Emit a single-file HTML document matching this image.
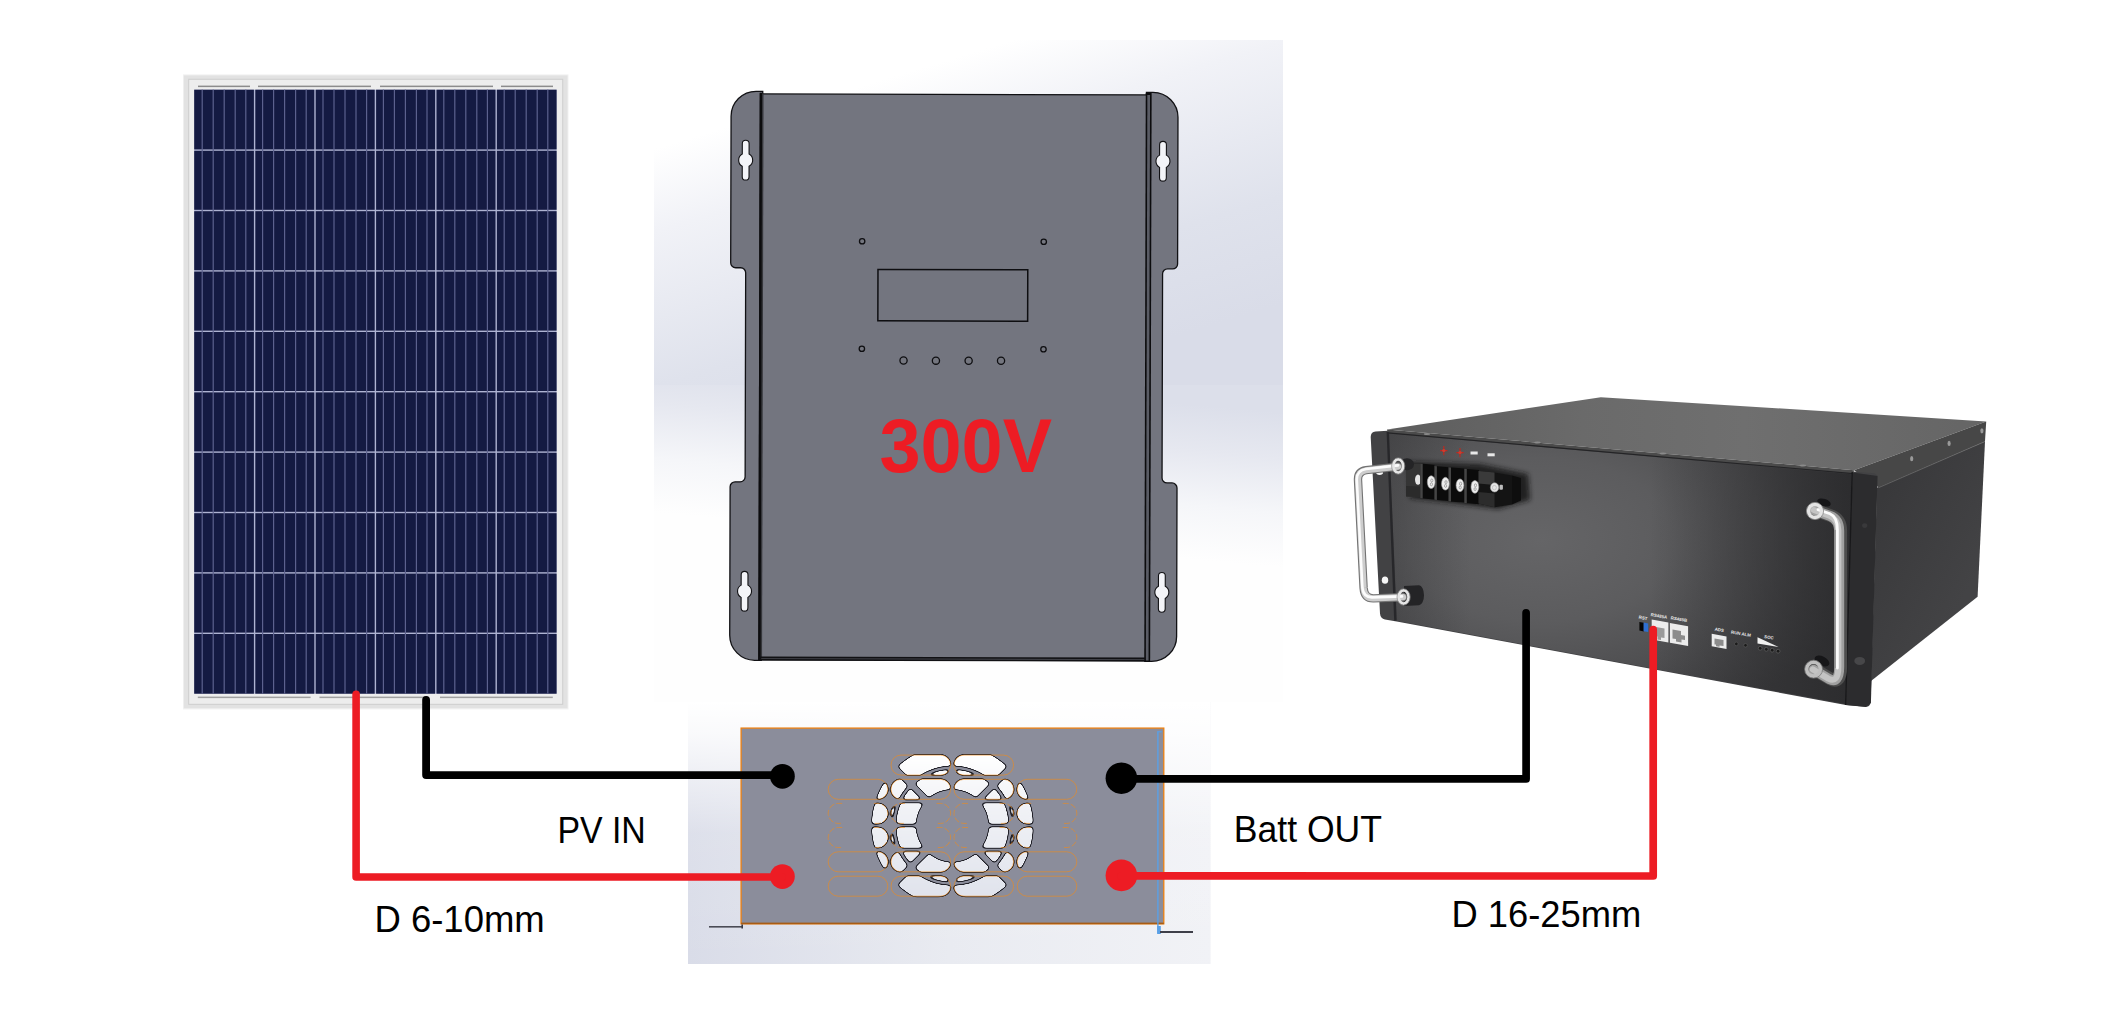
<!DOCTYPE html>
<html><head><meta charset="utf-8"><title>Wiring diagram</title>
<style>html,body{margin:0;padding:0;background:#fff;}body{width:2128px;height:1016px;overflow:hidden;font-family:"Liberation Sans",sans-serif;}svg{display:block;}</style>
</head><body>
<svg width="2128" height="1016" viewBox="0 0 2128 1016">
<rect width="2128" height="1016" fill="#ffffff"/>
<g id="panel">
<rect x="183" y="74.4" width="385.5" height="635" fill="#f1f1f1"/>
<rect x="183.9" y="75.4" width="383.6" height="632.8" fill="#e2e2e2"/>
<rect x="188.2" y="78.8" width="375" height="626" fill="#cecece"/>
<rect x="189.2" y="79.8" width="373" height="624" fill="#ededed"/>
<rect x="194.2" y="89.7" width="362.4" height="604.0" fill="#aeb3d2"/>
<rect x="194.20" y="89.70" width="59.70" height="59.70" fill="#141a42"/>
<rect x="255.30" y="89.70" width="59.00" height="59.70" fill="#141a42"/>
<rect x="315.70" y="89.70" width="59.00" height="59.70" fill="#141a42"/>
<rect x="376.10" y="89.70" width="59.00" height="59.70" fill="#141a42"/>
<rect x="436.50" y="89.70" width="59.00" height="59.70" fill="#141a42"/>
<rect x="496.90" y="89.70" width="59.70" height="59.70" fill="#141a42"/>
<rect x="194.20" y="150.80" width="59.70" height="59.00" fill="#141a42"/>
<rect x="255.30" y="150.80" width="59.00" height="59.00" fill="#141a42"/>
<rect x="315.70" y="150.80" width="59.00" height="59.00" fill="#141a42"/>
<rect x="376.10" y="150.80" width="59.00" height="59.00" fill="#141a42"/>
<rect x="436.50" y="150.80" width="59.00" height="59.00" fill="#141a42"/>
<rect x="496.90" y="150.80" width="59.70" height="59.00" fill="#141a42"/>
<rect x="194.20" y="211.20" width="59.70" height="59.00" fill="#141a42"/>
<rect x="255.30" y="211.20" width="59.00" height="59.00" fill="#141a42"/>
<rect x="315.70" y="211.20" width="59.00" height="59.00" fill="#141a42"/>
<rect x="376.10" y="211.20" width="59.00" height="59.00" fill="#141a42"/>
<rect x="436.50" y="211.20" width="59.00" height="59.00" fill="#141a42"/>
<rect x="496.90" y="211.20" width="59.70" height="59.00" fill="#141a42"/>
<rect x="194.20" y="271.60" width="59.70" height="59.00" fill="#141a42"/>
<rect x="255.30" y="271.60" width="59.00" height="59.00" fill="#141a42"/>
<rect x="315.70" y="271.60" width="59.00" height="59.00" fill="#141a42"/>
<rect x="376.10" y="271.60" width="59.00" height="59.00" fill="#141a42"/>
<rect x="436.50" y="271.60" width="59.00" height="59.00" fill="#141a42"/>
<rect x="496.90" y="271.60" width="59.70" height="59.00" fill="#141a42"/>
<rect x="194.20" y="332.00" width="59.70" height="59.00" fill="#141a42"/>
<rect x="255.30" y="332.00" width="59.00" height="59.00" fill="#141a42"/>
<rect x="315.70" y="332.00" width="59.00" height="59.00" fill="#141a42"/>
<rect x="376.10" y="332.00" width="59.00" height="59.00" fill="#141a42"/>
<rect x="436.50" y="332.00" width="59.00" height="59.00" fill="#141a42"/>
<rect x="496.90" y="332.00" width="59.70" height="59.00" fill="#141a42"/>
<rect x="194.20" y="392.40" width="59.70" height="59.00" fill="#141a42"/>
<rect x="255.30" y="392.40" width="59.00" height="59.00" fill="#141a42"/>
<rect x="315.70" y="392.40" width="59.00" height="59.00" fill="#141a42"/>
<rect x="376.10" y="392.40" width="59.00" height="59.00" fill="#141a42"/>
<rect x="436.50" y="392.40" width="59.00" height="59.00" fill="#141a42"/>
<rect x="496.90" y="392.40" width="59.70" height="59.00" fill="#141a42"/>
<rect x="194.20" y="452.80" width="59.70" height="59.00" fill="#141a42"/>
<rect x="255.30" y="452.80" width="59.00" height="59.00" fill="#141a42"/>
<rect x="315.70" y="452.80" width="59.00" height="59.00" fill="#141a42"/>
<rect x="376.10" y="452.80" width="59.00" height="59.00" fill="#141a42"/>
<rect x="436.50" y="452.80" width="59.00" height="59.00" fill="#141a42"/>
<rect x="496.90" y="452.80" width="59.70" height="59.00" fill="#141a42"/>
<rect x="194.20" y="513.20" width="59.70" height="59.00" fill="#141a42"/>
<rect x="255.30" y="513.20" width="59.00" height="59.00" fill="#141a42"/>
<rect x="315.70" y="513.20" width="59.00" height="59.00" fill="#141a42"/>
<rect x="376.10" y="513.20" width="59.00" height="59.00" fill="#141a42"/>
<rect x="436.50" y="513.20" width="59.00" height="59.00" fill="#141a42"/>
<rect x="496.90" y="513.20" width="59.70" height="59.00" fill="#141a42"/>
<rect x="194.20" y="573.60" width="59.70" height="59.00" fill="#141a42"/>
<rect x="255.30" y="573.60" width="59.00" height="59.00" fill="#141a42"/>
<rect x="315.70" y="573.60" width="59.00" height="59.00" fill="#141a42"/>
<rect x="376.10" y="573.60" width="59.00" height="59.00" fill="#141a42"/>
<rect x="436.50" y="573.60" width="59.00" height="59.00" fill="#141a42"/>
<rect x="496.90" y="573.60" width="59.70" height="59.00" fill="#141a42"/>
<rect x="194.20" y="634.00" width="59.70" height="59.70" fill="#141a42"/>
<rect x="255.30" y="634.00" width="59.00" height="59.70" fill="#141a42"/>
<rect x="315.70" y="634.00" width="59.00" height="59.70" fill="#141a42"/>
<rect x="376.10" y="634.00" width="59.00" height="59.70" fill="#141a42"/>
<rect x="436.50" y="634.00" width="59.00" height="59.70" fill="#141a42"/>
<rect x="496.90" y="634.00" width="59.70" height="59.70" fill="#141a42"/>
<rect x="201.60" y="89.7" width="1.2" height="604.0" fill="#5c618e"/>
<rect x="212.60" y="89.7" width="1.2" height="604.0" fill="#5c618e"/>
<rect x="223.60" y="89.7" width="1.2" height="604.0" fill="#5c618e"/>
<rect x="234.60" y="89.7" width="1.2" height="604.0" fill="#5c618e"/>
<rect x="245.20" y="89.7" width="1.2" height="604.0" fill="#5c618e"/>
<rect x="262.00" y="89.7" width="1.2" height="604.0" fill="#5c618e"/>
<rect x="273.00" y="89.7" width="1.2" height="604.0" fill="#5c618e"/>
<rect x="284.00" y="89.7" width="1.2" height="604.0" fill="#5c618e"/>
<rect x="295.00" y="89.7" width="1.2" height="604.0" fill="#5c618e"/>
<rect x="305.60" y="89.7" width="1.2" height="604.0" fill="#5c618e"/>
<rect x="322.40" y="89.7" width="1.2" height="604.0" fill="#5c618e"/>
<rect x="333.40" y="89.7" width="1.2" height="604.0" fill="#5c618e"/>
<rect x="344.40" y="89.7" width="1.2" height="604.0" fill="#5c618e"/>
<rect x="355.40" y="89.7" width="1.2" height="604.0" fill="#5c618e"/>
<rect x="366.00" y="89.7" width="1.2" height="604.0" fill="#5c618e"/>
<rect x="382.80" y="89.7" width="1.2" height="604.0" fill="#5c618e"/>
<rect x="393.80" y="89.7" width="1.2" height="604.0" fill="#5c618e"/>
<rect x="404.80" y="89.7" width="1.2" height="604.0" fill="#5c618e"/>
<rect x="415.80" y="89.7" width="1.2" height="604.0" fill="#5c618e"/>
<rect x="426.40" y="89.7" width="1.2" height="604.0" fill="#5c618e"/>
<rect x="443.20" y="89.7" width="1.2" height="604.0" fill="#5c618e"/>
<rect x="454.20" y="89.7" width="1.2" height="604.0" fill="#5c618e"/>
<rect x="465.20" y="89.7" width="1.2" height="604.0" fill="#5c618e"/>
<rect x="476.20" y="89.7" width="1.2" height="604.0" fill="#5c618e"/>
<rect x="486.80" y="89.7" width="1.2" height="604.0" fill="#5c618e"/>
<rect x="503.60" y="89.7" width="1.2" height="604.0" fill="#5c618e"/>
<rect x="514.60" y="89.7" width="1.2" height="604.0" fill="#5c618e"/>
<rect x="525.60" y="89.7" width="1.2" height="604.0" fill="#5c618e"/>
<rect x="536.60" y="89.7" width="1.2" height="604.0" fill="#5c618e"/>
<rect x="547.20" y="89.7" width="1.2" height="604.0" fill="#5c618e"/>
<rect x="198" y="85.6" width="52" height="1.5" fill="#8c8c8c"/>
<rect x="258" y="85.6" width="113" height="1.5" fill="#8c8c8c"/>
<rect x="380" y="85.6" width="113" height="1.5" fill="#8c8c8c"/>
<rect x="501" y="85.6" width="52" height="1.5" fill="#8c8c8c"/>
<rect x="197.8" y="696.6" width="112.8" height="1.5" fill="#a0a0a0"/>
<rect x="319.5" y="696.6" width="107.8" height="1.5" fill="#a0a0a0"/>
<rect x="440" y="696.6" width="112.8" height="1.5" fill="#a0a0a0"/>
</g>
<g id="controller">
<defs>
<linearGradient id="cbgA" gradientUnits="userSpaceOnUse" x1="900" y1="60" x2="1000" y2="390">
<stop offset="0.04" stop-color="#ffffff"/><stop offset="0.27" stop-color="#f1f2f7"/><stop offset="0.7" stop-color="#dfe2ec"/><stop offset="1" stop-color="#d9dce8"/></linearGradient>
<linearGradient id="cbgB" gradientUnits="userSpaceOnUse" x1="968" y1="385" x2="954.5" y2="538.8">
<stop offset="0" stop-color="#dcdfea"/><stop offset="0.3" stop-color="#e6e8f0"/><stop offset="0.65" stop-color="#f5f6f9"/><stop offset="1" stop-color="#fefefe"/></linearGradient>
<linearGradient id="fbgH" x1="0" y1="0" x2="1" y2="0">
<stop offset="0" stop-color="#d9dce8"/><stop offset="0.5" stop-color="#e9ebf1"/><stop offset="1" stop-color="#f1f2f6"/></linearGradient>
<linearGradient id="fbgV" x1="0" y1="0" x2="0" y2="1">
<stop offset="0" stop-color="#fff" stop-opacity="1"/><stop offset="0.12" stop-color="#fff" stop-opacity="0.85"/><stop offset="0.5" stop-color="#fff" stop-opacity="0.12"/><stop offset="1" stop-color="#fff" stop-opacity="0"/></linearGradient>
</defs>
<rect x="654" y="40" width="629" height="346" fill="url(#cbgA)"/>
<rect x="654" y="385" width="629" height="317" fill="url(#cbgB)"/>
<rect x="688" y="702" width="522.6" height="262" fill="url(#fbgH)"/>
<rect x="688" y="702" width="522.6" height="262" fill="url(#fbgV)"/>
<g transform="rotate(0.15 953.5 376)">
<path d="M762,91.8 L755.4,91.8 A25,25 0 0 0 730.4,116.8 L730.4,263.3 A5,5 0 0 0 735.4,268.3 L740.4,268.3 A5,5 0 0 1 745.4,273.3 L745.4,477.4 A5,5 0 0 1 740.4,482.4 L735.4,482.4 A5,5 0 0 0 730.4,487.4 L730.4,635.8 A25,25 0 0 0 755.4,660.8 L762,660.8 Z" fill="#73757f" stroke="#111114" stroke-width="1.3"/>
<path d="M762,91.8 L755.4,91.8 A25,25 0 0 0 730.4,116.8 L730.4,263.3 A5,5 0 0 0 735.4,268.3 L740.4,268.3 A5,5 0 0 1 745.4,273.3 L745.4,477.4 A5,5 0 0 1 740.4,482.4 L735.4,482.4 A5,5 0 0 0 730.4,487.4 L730.4,635.8 A25,25 0 0 0 755.4,660.8 L762,660.8 Z" fill="#73757f" stroke="#111114" stroke-width="1.3" transform="translate(1907.7,0) scale(-1,1)"/>
<rect x="759.6" y="94.4" width="387" height="565.6" fill="#73757f" stroke="#111114" stroke-width="1.2"/>
<rect x="759" y="93.2" width="3" height="567.6" fill="#0c0c0e"/>
<rect x="761.4" y="94" width="1.4" height="566" fill="#36373c"/>
<rect x="1145" y="92.6" width="5.9" height="568.6" fill="#0c0c0e"/>
<rect x="1146.6" y="94.4" width="2.7" height="565.6" fill="#5a5c65"/>
<rect x="760" y="657" width="386" height="4.2" fill="#111114"/>
<rect x="762" y="658.7" width="383" height="0.8" fill="#4a4b52"/>
<path d="M741.7,144.2 A3.4,3.4 0 0 1 748.5,144.2 L748.5,154.58 A7.0,7.0 0 0 1 748.5,166.82 L748.5,177.2 A3.4,3.4 0 0 1 741.7,177.2 L741.7,166.82 A7.0,7.0 0 0 1 741.7,154.58 Z" fill="#f3f4f8" stroke="#111114" stroke-width="1.1"/>
<path d="M741.7,575.3 A3.4,3.4 0 0 1 748.5,575.3 L748.5,585.68 A7.0,7.0 0 0 1 748.5,597.92 L748.5,608.3 A3.4,3.4 0 0 1 741.7,608.3 L741.7,597.92 A7.0,7.0 0 0 1 741.7,585.68 Z" fill="#f3f4f8" stroke="#111114" stroke-width="1.1"/>
<path d="M1159.0,144.2 A3.4,3.4 0 0 1 1165.8000000000002,144.2 L1165.8000000000002,154.58 A7.0,7.0 0 0 1 1165.8000000000002,166.82 L1165.8000000000002,177.2 A3.4,3.4 0 0 1 1159.0,177.2 L1159.0,166.82 A7.0,7.0 0 0 1 1159.0,154.58 Z" fill="#f3f4f8" stroke="#111114" stroke-width="1.1"/>
<path d="M1159.0,575.3 A3.4,3.4 0 0 1 1165.8000000000002,575.3 L1165.8000000000002,585.68 A7.0,7.0 0 0 1 1165.8000000000002,597.92 L1165.8000000000002,608.3 A3.4,3.4 0 0 1 1159.0,608.3 L1159.0,597.92 A7.0,7.0 0 0 1 1159.0,585.68 Z" fill="#f3f4f8" stroke="#111114" stroke-width="1.1"/>
<rect x="877.7" y="269.6" width="149.8" height="51.4" fill="none" stroke="#0e0e11" stroke-width="1.5"/>
<circle cx="861.8" cy="241.5" r="2.7" fill="#74767f" stroke="#0e0e11" stroke-width="1.3"/>
<circle cx="861.8" cy="349" r="2.7" fill="#74767f" stroke="#0e0e11" stroke-width="1.3"/>
<circle cx="1043.4" cy="241.5" r="2.7" fill="#74767f" stroke="#0e0e11" stroke-width="1.3"/>
<circle cx="1043.4" cy="349" r="2.7" fill="#74767f" stroke="#0e0e11" stroke-width="1.3"/>
<circle cx="903.5" cy="360.7" r="3.6" fill="#74767f" stroke="#0e0e11" stroke-width="1.3"/>
<circle cx="935.9" cy="360.7" r="3.6" fill="#74767f" stroke="#0e0e11" stroke-width="1.3"/>
<circle cx="968.6" cy="360.7" r="3.6" fill="#74767f" stroke="#0e0e11" stroke-width="1.3"/>
<circle cx="1001" cy="360.7" r="3.6" fill="#74767f" stroke="#0e0e11" stroke-width="1.3"/>
</g>
<text id="t300" x="879.4" y="472.4" font-family="Liberation Sans, sans-serif" font-weight="bold" font-size="76.5" fill="#ed1c24" textLength="172.6" lengthAdjust="spacingAndGlyphs">300V</text>
</g>
<g id="fan">
<rect x="741.1" y="728.1" width="422.7" height="195.7" fill="#8b8d9b" stroke="#ec7f10" stroke-width="1.3"/>
<rect x="741.1" y="922.6" width="422.7" height="1.6" fill="#a85c14"/>
<defs><clipPath id="slotclip">
<rect x="891.0" y="755.1" width="59.6" height="20" rx="10" ry="10"/>
<rect x="954.0" y="755.1" width="59.6" height="20" rx="10" ry="10"/>
<rect x="828.2" y="779.3" width="59.6" height="20" rx="10" ry="10"/>
<rect x="891.0" y="779.3" width="59.6" height="20" rx="10" ry="10"/>
<rect x="954.0" y="779.3" width="59.6" height="20" rx="10" ry="10"/>
<rect x="1017.2" y="779.3" width="59.6" height="20" rx="10" ry="10"/>
<rect x="828.2" y="803.4" width="59.6" height="20" rx="10" ry="10"/>
<rect x="891.0" y="803.4" width="59.6" height="20" rx="10" ry="10"/>
<rect x="954.0" y="803.4" width="59.6" height="20" rx="10" ry="10"/>
<rect x="1017.2" y="803.4" width="59.6" height="20" rx="10" ry="10"/>
<rect x="828.2" y="827.5" width="59.6" height="20" rx="10" ry="10"/>
<rect x="891.0" y="827.5" width="59.6" height="20" rx="10" ry="10"/>
<rect x="954.0" y="827.5" width="59.6" height="20" rx="10" ry="10"/>
<rect x="1017.2" y="827.5" width="59.6" height="20" rx="10" ry="10"/>
<rect x="828.2" y="851.8" width="59.6" height="20" rx="10" ry="10"/>
<rect x="891.0" y="851.8" width="59.6" height="20" rx="10" ry="10"/>
<rect x="954.0" y="851.8" width="59.6" height="20" rx="10" ry="10"/>
<rect x="1017.2" y="851.8" width="59.6" height="20" rx="10" ry="10"/>
<rect x="828.2" y="876.2" width="59.6" height="20" rx="10" ry="10"/>
<rect x="891.0" y="876.2" width="59.6" height="20" rx="10" ry="10"/>
<rect x="954.0" y="876.2" width="59.6" height="20" rx="10" ry="10"/>
<rect x="1017.2" y="876.2" width="59.6" height="20" rx="10" ry="10"/>
</clipPath>
<linearGradient id="fanw" gradientUnits="userSpaceOnUse" x1="0" y1="755" x2="0" y2="897"><stop offset="0" stop-color="#ffffff"/><stop offset="0.35" stop-color="#f1f2f6"/><stop offset="1" stop-color="#e0e3ec"/></linearGradient>
</defs>
<defs><mask id="fanmask" maskUnits="userSpaceOnUse" x="860" y="740" width="190" height="170"><circle cx="952.4" cy="825.7" r="80.3" fill="#fff"/><line x1="973.6" y1="846.9" x2="1013.2" y2="886.5" stroke="#000" stroke-width="7.4"/><line x1="931.2" y1="846.9" x2="891.6" y2="886.5" stroke="#000" stroke-width="7.4"/><line x1="931.2" y1="804.5" x2="891.6" y2="764.9" stroke="#000" stroke-width="7.4"/><line x1="973.6" y1="804.5" x2="1013.2" y2="764.9" stroke="#000" stroke-width="7.4"/><circle cx="952.4" cy="825.7" r="58" fill="none" stroke="#000" stroke-width="4.4"/><circle cx="952.4" cy="825.7" r="37" fill="#000"/></mask>
<filter id="goo" filterUnits="userSpaceOnUse" x="860" y="740" width="190" height="170" color-interpolation-filters="sRGB">
<feGaussianBlur in="SourceGraphic" stdDeviation="1.5" result="b"/>
<feColorMatrix in="b" type="matrix" values="0 0 0 0 0.13  0 0 0 0 0.13  0 0 0 0 0.16  0 0 0 9 -1.6" result="outer"/>
<feColorMatrix in="b" type="matrix" values="1 0 0 0 0  0 1 0 0 0  0 0 1 0 0  0 0 0 9 -3.7" result="inner"/>
<feMerge><feMergeNode in="outer"/><feMergeNode in="inner"/></feMerge>
</filter></defs>
<g filter="url(#goo)"><g clip-path="url(#slotclip)">
<rect x="860" y="740" width="190" height="170" fill="url(#fanw)" mask="url(#fanmask)"/>
</g></g>
<rect x="891.0" y="755.1" width="59.6" height="20" rx="10" ry="10" fill="none" stroke="#ee8a1c" stroke-width="0.7" opacity="0.9"/>
<rect x="954.0" y="755.1" width="59.6" height="20" rx="10" ry="10" fill="none" stroke="#ee8a1c" stroke-width="0.7" opacity="0.9"/>
<rect x="828.2" y="779.3" width="59.6" height="20" rx="10" ry="10" fill="none" stroke="#ee8a1c" stroke-width="0.7" opacity="0.9"/>
<rect x="891.0" y="779.3" width="59.6" height="20" rx="10" ry="10" fill="none" stroke="#ee8a1c" stroke-width="0.7" opacity="0.9"/>
<rect x="954.0" y="779.3" width="59.6" height="20" rx="10" ry="10" fill="none" stroke="#ee8a1c" stroke-width="0.7" opacity="0.9"/>
<rect x="1017.2" y="779.3" width="59.6" height="20" rx="10" ry="10" fill="none" stroke="#ee8a1c" stroke-width="0.7" opacity="0.9"/>
<path d="M842.2,803.4 L838.2,803.4 A10,10 0 0 0 838.2,823.4 L842.2,823.4" fill="none" stroke="#ee8a1c" stroke-width="0.7" stroke-dasharray="6 2" opacity="0.9"/>
<path d="M873.8000000000001,803.4 L877.8000000000001,803.4 A10,10 0 0 1 877.8000000000001,823.4 L873.8000000000001,823.4" fill="none" stroke="#ee8a1c" stroke-width="0.7" stroke-dasharray="6 2" opacity="0.9"/>
<path d="M905.0,803.4 L901.0,803.4 A10,10 0 0 0 901.0,823.4 L905.0,823.4" fill="none" stroke="#ee8a1c" stroke-width="0.7" stroke-dasharray="6 2" opacity="0.9"/>
<path d="M936.6,803.4 L940.6,803.4 A10,10 0 0 1 940.6,823.4 L936.6,823.4" fill="none" stroke="#ee8a1c" stroke-width="0.7" stroke-dasharray="6 2" opacity="0.9"/>
<path d="M968.0,803.4 L964.0,803.4 A10,10 0 0 0 964.0,823.4 L968.0,823.4" fill="none" stroke="#ee8a1c" stroke-width="0.7" stroke-dasharray="6 2" opacity="0.9"/>
<path d="M999.6,803.4 L1003.6,803.4 A10,10 0 0 1 1003.6,823.4 L999.6,823.4" fill="none" stroke="#ee8a1c" stroke-width="0.7" stroke-dasharray="6 2" opacity="0.9"/>
<path d="M1031.2,803.4 L1027.2,803.4 A10,10 0 0 0 1027.2,823.4 L1031.2,823.4" fill="none" stroke="#ee8a1c" stroke-width="0.7" stroke-dasharray="6 2" opacity="0.9"/>
<path d="M1062.8,803.4 L1066.8,803.4 A10,10 0 0 1 1066.8,823.4 L1062.8,823.4" fill="none" stroke="#ee8a1c" stroke-width="0.7" stroke-dasharray="6 2" opacity="0.9"/>
<path d="M842.2,827.5 L838.2,827.5 A10,10 0 0 0 838.2,847.5 L842.2,847.5" fill="none" stroke="#ee8a1c" stroke-width="0.7" stroke-dasharray="6 2" opacity="0.9"/>
<path d="M873.8000000000001,827.5 L877.8000000000001,827.5 A10,10 0 0 1 877.8000000000001,847.5 L873.8000000000001,847.5" fill="none" stroke="#ee8a1c" stroke-width="0.7" stroke-dasharray="6 2" opacity="0.9"/>
<path d="M905.0,827.5 L901.0,827.5 A10,10 0 0 0 901.0,847.5 L905.0,847.5" fill="none" stroke="#ee8a1c" stroke-width="0.7" stroke-dasharray="6 2" opacity="0.9"/>
<path d="M936.6,827.5 L940.6,827.5 A10,10 0 0 1 940.6,847.5 L936.6,847.5" fill="none" stroke="#ee8a1c" stroke-width="0.7" stroke-dasharray="6 2" opacity="0.9"/>
<path d="M968.0,827.5 L964.0,827.5 A10,10 0 0 0 964.0,847.5 L968.0,847.5" fill="none" stroke="#ee8a1c" stroke-width="0.7" stroke-dasharray="6 2" opacity="0.9"/>
<path d="M999.6,827.5 L1003.6,827.5 A10,10 0 0 1 1003.6,847.5 L999.6,847.5" fill="none" stroke="#ee8a1c" stroke-width="0.7" stroke-dasharray="6 2" opacity="0.9"/>
<path d="M1031.2,827.5 L1027.2,827.5 A10,10 0 0 0 1027.2,847.5 L1031.2,847.5" fill="none" stroke="#ee8a1c" stroke-width="0.7" stroke-dasharray="6 2" opacity="0.9"/>
<path d="M1062.8,827.5 L1066.8,827.5 A10,10 0 0 1 1066.8,847.5 L1062.8,847.5" fill="none" stroke="#ee8a1c" stroke-width="0.7" stroke-dasharray="6 2" opacity="0.9"/>
<rect x="828.2" y="851.8" width="59.6" height="20" rx="10" ry="10" fill="none" stroke="#ee8a1c" stroke-width="0.7" opacity="0.9"/>
<rect x="891.0" y="851.8" width="59.6" height="20" rx="10" ry="10" fill="none" stroke="#ee8a1c" stroke-width="0.7" opacity="0.9"/>
<rect x="954.0" y="851.8" width="59.6" height="20" rx="10" ry="10" fill="none" stroke="#ee8a1c" stroke-width="0.7" opacity="0.9"/>
<rect x="1017.2" y="851.8" width="59.6" height="20" rx="10" ry="10" fill="none" stroke="#ee8a1c" stroke-width="0.7" opacity="0.9"/>
<rect x="828.2" y="876.2" width="59.6" height="20" rx="10" ry="10" fill="none" stroke="#ee8a1c" stroke-width="0.7" opacity="0.9"/>
<rect x="891.0" y="876.2" width="59.6" height="20" rx="10" ry="10" fill="none" stroke="#ee8a1c" stroke-width="0.7" opacity="0.9"/>
<rect x="954.0" y="876.2" width="59.6" height="20" rx="10" ry="10" fill="none" stroke="#ee8a1c" stroke-width="0.7" opacity="0.9"/>
<rect x="1017.2" y="876.2" width="59.6" height="20" rx="10" ry="10" fill="none" stroke="#ee8a1c" stroke-width="0.7" opacity="0.9"/>
<circle cx="782.4" cy="776.3" r="12.4" fill="#000"/>
<circle cx="782.4" cy="876.6" r="12.4" fill="#ed1c24"/>
<circle cx="1121.4" cy="778.2" r="15.8" fill="#000"/>
<circle cx="1121.4" cy="875.4" r="15.8" fill="#ed1c24"/>
<rect x="709" y="926" width="33" height="1.6" fill="#4a4b55"/>
<rect x="741.4" y="924.5" width="1.6" height="4" fill="#3a3b44"/>
<rect x="1157.2" y="731.6" width="1.4" height="202" fill="#5aa0e6"/>
<rect x="1157.2" y="731.2" width="4.5" height="1.2" fill="#5aa0e6"/>
<rect x="1157.2" y="926" width="3.6" height="8" fill="#5aa0e6"/>
<rect x="1160" y="931" width="33" height="2" fill="#3e3f49"/>
</g>
<g id="battery">
<defs>
<linearGradient id="btop" gradientUnits="userSpaceOnUse" x1="1420" y1="430" x2="1960" y2="430">
<stop offset="0" stop-color="#5f5f5f"/><stop offset="0.3" stop-color="#6a6a6a"/><stop offset="0.6" stop-color="#6f6f6f"/><stop offset="1" stop-color="#666666"/></linearGradient>
<radialGradient id="bfront" gradientUnits="userSpaceOnUse" cx="1540" cy="540" r="330" gradientTransform="translate(1540 540) scale(1 0.62) translate(-1540 -540)">
<stop offset="0" stop-color="#656567"/><stop offset="0.4" stop-color="#5c5c5e"/><stop offset="0.7" stop-color="#4e4e50"/><stop offset="1" stop-color="#3e3e40"/></radialGradient>
<linearGradient id="bside" gradientUnits="userSpaceOnUse" x1="1880" y1="500" x2="1985" y2="560">
<stop offset="0" stop-color="#39393b"/><stop offset="1" stop-color="#434345"/></linearGradient>
<linearGradient id="chromeV" x1="0" y1="0" x2="1" y2="0">
<stop offset="0" stop-color="#8e8e8e"/><stop offset="0.3" stop-color="#f4f4f4"/><stop offset="0.55" stop-color="#d8d8d8"/><stop offset="1" stop-color="#6e6e6e"/></linearGradient>
</defs>
<polygon points="1387,429.5 1600.8,397.2 1986.2,421.4 1854,470.2" fill="url(#btop)"/>
<polygon points="1854,470.2 1986.2,421.4 1985,441.5 1879,487.5" fill="#474747"/>
<polygon points="1877,487.8 1985,441.5 1977.6,596.8 1871,681" fill="url(#bside)"/>
<line x1="1879" y1="487.5" x2="1985" y2="441.5" stroke="#6a6a6a" stroke-width="0.8"/>
<ellipse cx="1911.7" cy="458.7" rx="1.6" ry="2.6" fill="#9a9a9a"/>
<ellipse cx="1949.1" cy="443.4" rx="1.6" ry="2.6" fill="#9a9a9a"/>
<ellipse cx="1981.9" cy="430.8" rx="1.6" ry="2.6" fill="#9a9a9a"/>
<path d="M1370.7,437 Q1370.8,432 1375.5,431.6 L1388,430.8 L1852.5,471.5 L1873.5,473.3 Q1877.6,474 1877.5,478.5 L1870.6,702 Q1870.3,707.2 1865.5,706.8 L1845.8,705.1 L1396.7,621.4 L1385,619.4 Q1380.4,618.4 1380,613.5 Z" fill="#424244"/>
<polygon points="1388.6,433.6 1851.6,474.2 1845.2,704.2 1397.4,620.8" fill="url(#bfront)"/>
<defs><linearGradient id="bfr" gradientUnits="userSpaceOnUse" x1="1650" y1="0" x2="1852" y2="0"><stop offset="0" stop-color="#28282a" stop-opacity="0"/><stop offset="1" stop-color="#28282a" stop-opacity="0.8"/></linearGradient></defs>
<polygon points="1650,456.4 1851.6,474.2 1845.2,704 1650,667.8" fill="url(#bfr)"/>
<defs><linearGradient id="bfl" gradientUnits="userSpaceOnUse" x1="1388" y1="0" x2="1470" y2="0"><stop offset="0" stop-color="#323234" stop-opacity="0.36"/><stop offset="1" stop-color="#323234" stop-opacity="0"/></linearGradient></defs>
<polygon points="1388.6,433.6 1470,440.8 1470,634.4 1397.4,620.8" fill="url(#bfl)"/>
<polygon points="1387,429.5 1854,470.2 1853.4,473.4 1387.6,432.6" fill="#4b4b4b"/>
<line x1="1387.6" y1="432.9" x2="1853" y2="473.6" stroke="#242426" stroke-width="1.1"/>
<polygon points="1852.5,472.5 1877.5,476 1870.9,703 1866,707 1845.8,705" fill="#2c2c2e"/>
<line x1="1852.2" y1="472" x2="1845.6" y2="705" stroke="#18181a" stroke-width="1.4"/>
<line x1="1387.8" y1="432" x2="1395.4" y2="620.6" stroke="#27272a" stroke-width="2.4"/>
<ellipse cx="1379.6" cy="472.8" rx="3.4" ry="2.1" fill="#f6f6f6"/>
<ellipse cx="1385" cy="580.2" rx="3.2" ry="3.6" fill="#f6f6f6"/>
<ellipse cx="1864.7" cy="525.6" rx="2.6" ry="2.4" fill="#39393b"/>
<ellipse cx="1859.7" cy="660.9" rx="5.4" ry="4" fill="#474749"/>
<ellipse cx="1427" cy="434" rx="3.2" ry="1.1" fill="#8a8a8a"/>
<ellipse cx="1537.5" cy="442.5" rx="3.2" ry="1.1" fill="#8a8a8a"/>
<ellipse cx="1663" cy="453.5" rx="3.2" ry="1.1" fill="#8a8a8a"/>
<ellipse cx="1803" cy="465.5" rx="3.2" ry="1.1" fill="#8a8a8a"/>
<defs><filter id="blur3" x="-20%" y="-40%" width="140%" height="180%"><feGaussianBlur stdDeviation="2.6"/></filter><filter id="blur1"><feGaussianBlur stdDeviation="0.5"/></filter></defs>
<polygon points="1408,462 1480,464 1528,474 1530,500 1498,509 1410,498" fill="#161616" opacity="0.85" filter="url(#blur3)"/>
<polygon points="1406,463.6 1420.4,464 1420.4,497 1406,496.4" fill="#353535"/>
<polygon points="1406,486 1420.4,486.6 1420.4,497 1406,496.4" fill="#2b2b2b"/>
<ellipse cx="1418" cy="479.6" rx="3" ry="5.2" fill="#e6e6e6"/>
<polygon points="1420.2,463.6 1434.4,464.8 1434.4,499.5 1420.2,498.3" fill="#0b0b0b"/>
<polygon points="1420.2,463.6 1422.7,463.8 1422.7,498.5 1420.2,498.3" fill="#454545"/>
<polygon points="1434.4,466 1448.5,467.2 1448.5,501.0 1434.4,499.8" fill="#0b0b0b"/>
<polygon points="1434.4,466 1436.9,466.2 1436.9,500.0 1434.4,499.8" fill="#454545"/>
<polygon points="1448.5,467.2 1464.3,468.4 1464.3,502.59999999999997 1448.5,501.4" fill="#0b0b0b"/>
<polygon points="1448.5,467.2 1451.0,467.4 1451.0,501.59999999999997 1448.5,501.4" fill="#454545"/>
<polygon points="1464.3,468.7 1479,469.9 1479,504.2 1464.3,503" fill="#0b0b0b"/>
<polygon points="1464.3,468.7 1466.8,468.9 1466.8,503.2 1464.3,503" fill="#454545"/>
<polygon points="1478.5,471 1494.5,472.5 1512,475.5 1512,504.5 1495,507.3 1478.5,503.5" fill="#141414"/>
<polygon points="1478.5,471 1494.5,472.5 1494.5,485 1478.5,483.5" fill="#3a3a3a"/>
<polygon points="1478.5,492 1494.5,493.5 1494.5,507.3 1478.5,503.5" fill="#2c2c2c"/>
<polygon points="1512,475.5 1521,478 1521,500.5 1512,504.5" fill="#0e0e0e"/>
<ellipse cx="1431.2" cy="482.1" rx="3.9" ry="6.4" fill="#ededed" stroke="#9a9a9a" stroke-width="0.6"/>
<ellipse cx="1431.8" cy="480.5" rx="1.1" ry="1.5" fill="none" stroke="#8a8a8a" stroke-width="0.7"/>
<ellipse cx="1431.4" cy="484.3" rx="1.1" ry="1.5" fill="none" stroke="#8a8a8a" stroke-width="0.7"/>
<ellipse cx="1445.4" cy="483.7" rx="3.9" ry="6.4" fill="#ededed" stroke="#9a9a9a" stroke-width="0.6"/>
<ellipse cx="1446.0" cy="482.09999999999997" rx="1.1" ry="1.5" fill="none" stroke="#8a8a8a" stroke-width="0.7"/>
<ellipse cx="1445.6000000000001" cy="485.9" rx="1.1" ry="1.5" fill="none" stroke="#8a8a8a" stroke-width="0.7"/>
<ellipse cx="1460" cy="485.3" rx="3.9" ry="6.4" fill="#ededed" stroke="#9a9a9a" stroke-width="0.6"/>
<ellipse cx="1460.6" cy="483.7" rx="1.1" ry="1.5" fill="none" stroke="#8a8a8a" stroke-width="0.7"/>
<ellipse cx="1460.2" cy="487.5" rx="1.1" ry="1.5" fill="none" stroke="#8a8a8a" stroke-width="0.7"/>
<ellipse cx="1474.9" cy="486.9" rx="3.9" ry="6.4" fill="#ededed" stroke="#9a9a9a" stroke-width="0.6"/>
<ellipse cx="1475.5" cy="485.29999999999995" rx="1.1" ry="1.5" fill="none" stroke="#8a8a8a" stroke-width="0.7"/>
<ellipse cx="1475.1000000000001" cy="489.09999999999997" rx="1.1" ry="1.5" fill="none" stroke="#8a8a8a" stroke-width="0.7"/>
<rect x="1499.5" y="484.8" width="3.4" height="5" rx="1" fill="#bdbdbd"/>
<ellipse cx="1494.6" cy="487.4" rx="4.2" ry="4.6" fill="#e6e6e6" stroke="#9a9a9a" stroke-width="0.6"/>
<ellipse cx="1494.4" cy="487.6" rx="2" ry="2.2" fill="none" stroke="#b0b0b0" stroke-width="0.6"/>
<path d="M1440.2,450.6 L1447.3999999999999,450.6 M1443.8,446.0 L1443.8,455.20000000000005" stroke="#c0281e" stroke-width="1.1" fill="none"/>
<circle cx="1443.8" cy="450.6" r="1.7" fill="#d23a2c"/>
<path d="M1456.4,452.6 L1463.6,452.6 M1460,448.0 L1460,457.20000000000005" stroke="#c0281e" stroke-width="1.1" fill="none"/>
<circle cx="1460" cy="452.6" r="1.7" fill="#d23a2c"/>
<rect x="1470.5" y="451.5" width="7.2" height="3" fill="#e8e8e8"/>
<rect x="1487.5" y="453.3" width="7.2" height="3" fill="#e8e8e8"/>
<ellipse cx="1407" cy="464.3" rx="7" ry="6" fill="#242426"/>
<path d="M1404,586 L1419,585.2 A5,10 0 0 1 1419,605.2 L1404,606 Z" fill="#242426"/>
<path d="M1398,466.6 L1366,470.2 Q1357.6,471.6 1358,480 L1363.6,588 Q1364.4,598.6 1373.5,598.4 L1403,597.2" fill="none" stroke="#737373" stroke-width="8.4" stroke-linecap="round"/>
<path d="M1398,466.6 L1366,470.2 Q1357.6,471.6 1358,480 L1363.6,588 Q1364.4,598.6 1373.5,598.4 L1403,597.2" fill="none" stroke="#cdcdcd" stroke-width="6.2" stroke-linecap="round"/>
<path d="M1398,465.4 L1366,469 Q1356.4,470.6 1356.8,480 L1362.4,588 Q1363.4,597 1372,597.4 L1402,596.4" fill="none" stroke="#fcfcfc" stroke-width="2.6" stroke-linecap="round"/>
<ellipse cx="1398.2" cy="466" rx="5" ry="6.6" fill="none" stroke="#e6e6e6" stroke-width="2.8"/>
<ellipse cx="1398.2" cy="466" rx="6.6" ry="8.2" fill="none" stroke="#8a8a8a" stroke-width="0.7"/>
<ellipse cx="1403.6" cy="597" rx="5" ry="6.6" fill="none" stroke="#e6e6e6" stroke-width="2.8"/>
<ellipse cx="1403.6" cy="597" rx="6.6" ry="8.2" fill="none" stroke="#8a8a8a" stroke-width="0.7"/>
<ellipse cx="1824" cy="502.5" rx="7" ry="3.6" fill="#161618" transform="rotate(18 1824 502.5)"/>
<ellipse cx="1822" cy="661" rx="8" ry="4.6" fill="#161618" transform="rotate(28 1822 661)"/>
<path d="M1816,510.4 L1831.5,516 Q1840.6,519.6 1840.6,531 L1840.6,667 Q1840.6,684 1830.5,679 L1815,669.8" fill="none" stroke="#4e4e4e" stroke-width="13" stroke-linecap="round" stroke-linejoin="round"/>
<path d="M1816,510.4 L1831.5,516 Q1840.6,519.6 1840.6,531 L1840.6,667 Q1840.6,684 1830.5,679 L1815,669.8" fill="none" stroke="#a0a0a0" stroke-width="10" stroke-linecap="round" stroke-linejoin="round" transform="translate(-1.4,0)"/>
<path d="M1816,510.4 L1831.5,516 Q1840.6,519.6 1840.6,531 L1840.6,667 Q1840.6,684 1830.5,679 L1815,669.8" fill="none" stroke="#c4c4c4" stroke-width="6" stroke-linecap="round" stroke-linejoin="round" transform="translate(-2.2,-0.4)"/>
<path d="M1818,509.6 L1830,513.8 Q1837.4,517 1837.4,530 L1837.4,668" fill="none" stroke="#fbfbfb" stroke-width="2.8" stroke-linecap="round"/>
<path d="M1835,530 L1835,668" fill="none" stroke="#8e8e8e" stroke-width="1.4"/>
<circle cx="1815" cy="511" r="6.6" fill="none" stroke="#e4e4e4" stroke-width="3.6"/>
<circle cx="1815" cy="511" r="8.6" fill="none" stroke="#8a8a8a" stroke-width="0.8"/>
<circle cx="1813.6" cy="669.2" r="7" fill="none" stroke="#bfbfbf" stroke-width="3.8"/>
<circle cx="1813.6" cy="669.2" r="9" fill="none" stroke="#777" stroke-width="0.8"/>
<polygon points="1639.4,622 1643.8,622.8 1643.8,631.4 1639.4,630.6" fill="#050505"/>
<polygon points="1643.6,622.6 1648.2,623.4 1648.2,632 1643.6,631.2" fill="#2f6fd0"/>
<polygon points="1651.7,619.6 1668.4,622.6 1668.4,642.6 1651.7,639.6" fill="#ececec"/>
<polygon points="1656,627 1664.5,628.6 1664.5,638 1661,637.4 1661,640 1657.5,639.4 1657.5,636.6 1656,636.4" fill="#9a9a9a"/>
<polygon points="1669.9,622.9 1688.1,626.2 1688.1,646 1669.9,642.7" fill="#ececec"/>
<polygon points="1672.5,629.5 1681,631 1681,635 1685,635.8 1685,640 1681.5,639.6 1681.5,642.6 1676,641.6 1676,639 1672.5,638.4" fill="#8c8c8c"/>
<polygon points="1711.7,633.8 1726.5,636.6 1726.5,649 1711.7,646.2" fill="#ececec"/>
<polygon points="1714.5,638.4 1723.5,640 1723.5,646 1719.5,645.4 1719.5,646.8 1716,646.2 1716,644.6 1714.5,644.4" fill="#8c8c8c"/>
<circle cx="1736.3" cy="643.9" r="1.8" fill="#1a1a1a" stroke="#5d5d5d" stroke-width="0.6"/>
<circle cx="1745.5" cy="645.3" r="1.8" fill="#1a1a1a" stroke="#5d5d5d" stroke-width="0.6"/>
<polygon points="1757.5,637.2 1757.5,643.6 1778.6,647.1" fill="#f0f0f0"/>
<circle cx="1760.2" cy="648.3" r="1.9" fill="#1a1a1a" stroke="#6a6a6a" stroke-width="0.6"/>
<circle cx="1766.3" cy="649.3" r="1.9" fill="#1a1a1a" stroke="#6a6a6a" stroke-width="0.6"/>
<circle cx="1772.2" cy="650.2" r="1.9" fill="#1a1a1a" stroke="#6a6a6a" stroke-width="0.6"/>
<circle cx="1778.1" cy="651.2" r="1.9" fill="#1a1a1a" stroke="#6a6a6a" stroke-width="0.6"/>
<text x="1638.6" y="618.6" font-family="Liberation Sans, sans-serif" font-size="4.4" font-weight="bold" fill="#e8e8e8" transform="rotate(10 1638.6 618.6)">RST</text>
<text x="1650.6" y="616" font-family="Liberation Sans, sans-serif" font-size="4.4" font-weight="bold" fill="#e8e8e8" transform="rotate(10 1650.6 616)">RS485A</text>
<text x="1670.6" y="619.2" font-family="Liberation Sans, sans-serif" font-size="4.4" font-weight="bold" fill="#e8e8e8" transform="rotate(10 1670.6 619.2)">RS485B</text>
<text x="1714.5" y="630.4" font-family="Liberation Sans, sans-serif" font-size="4.4" font-weight="bold" fill="#e8e8e8" transform="rotate(10 1714.5 630.4)">ADS</text>
<text x="1730.8" y="633.4" font-family="Liberation Sans, sans-serif" font-size="4.4" font-weight="bold" fill="#e8e8e8" transform="rotate(10 1730.8 633.4)">RUN ALM</text>
<text x="1764" y="638" font-family="Liberation Sans, sans-serif" font-size="4.4" font-weight="bold" fill="#e8e8e8" transform="rotate(10 1764 638)">SOC</text>
</g>
<g id="wires" fill="none" stroke-linejoin="round" stroke-linecap="round">
<path d="M356.1,694.3 L356.1,877 L782,877" stroke="#ed1c24" stroke-width="7.6"/>
<path d="M426.1,699.8 L426.1,775.1 L782,775.1" stroke="#000" stroke-width="7.8"/>
<path d="M1121,778.8 L1526.1,778.9 L1526.1,612.8" stroke="#000" stroke-width="7.7"/>
<path d="M1121,875.9 L1653.2,876 L1653.2,629.7" stroke="#ed1c24" stroke-width="7.7"/>
</g>
<text id="l1" x="557.4" y="842.6" font-family="Liberation Sans, sans-serif" font-size="36.4" fill="#000" lengthAdjust="spacingAndGlyphs" textLength="88.4">PV IN</text>
<text id="l2" x="374.4" y="931.6" font-family="Liberation Sans, sans-serif" font-size="36.4" fill="#000" lengthAdjust="spacingAndGlyphs" textLength="170.4">D 6-10mm</text>
<text id="l3" x="1233.8" y="842.4" font-family="Liberation Sans, sans-serif" font-size="36.4" fill="#000" lengthAdjust="spacingAndGlyphs" textLength="148.2">Batt OUT</text>
<text id="l4" x="1451.4" y="927.4" font-family="Liberation Sans, sans-serif" font-size="36.4" fill="#000" lengthAdjust="spacingAndGlyphs" textLength="189.8">D 16-25mm</text>
</svg>
</body></html>
